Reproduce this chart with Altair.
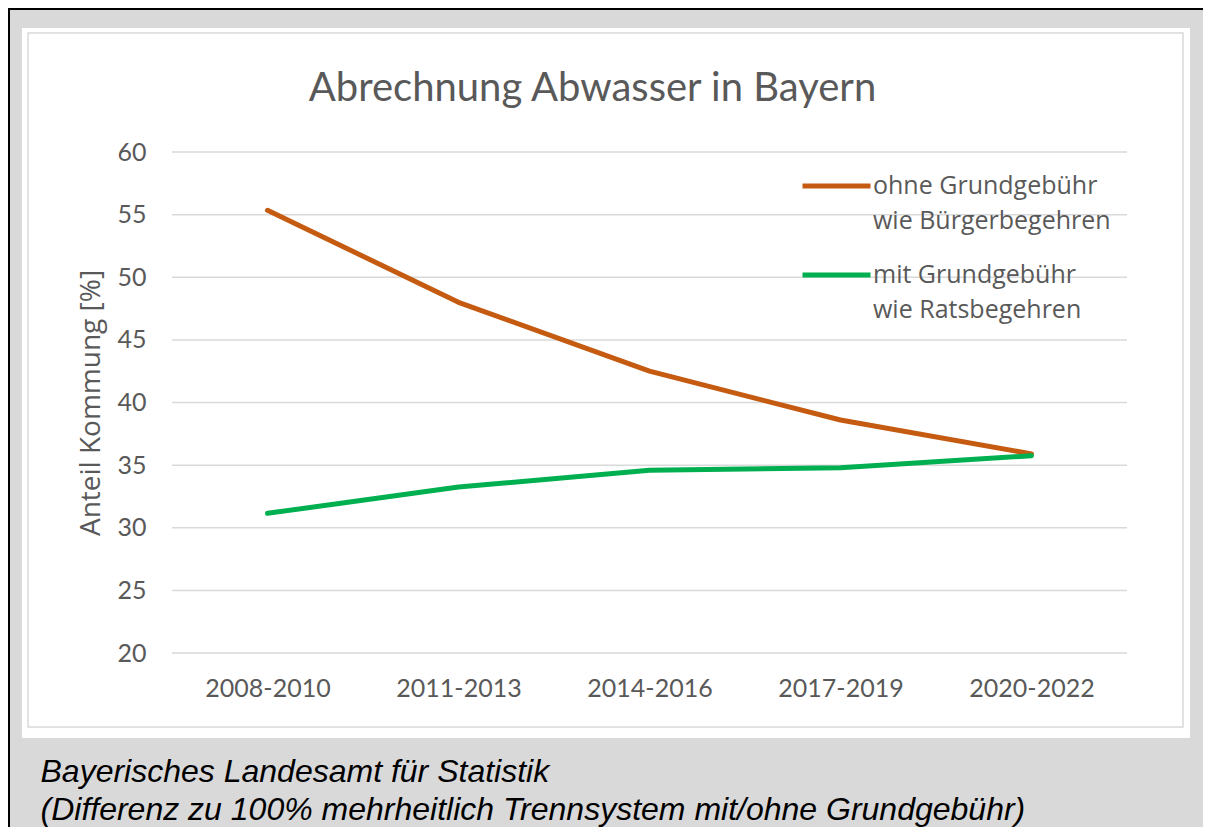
import altair as alt
import pandas as pd

# ---- data ----
periods = ["2008-2010", "2011-2013", "2014-2016", "2017-2019", "2020-2022"]
ohne_values = [55.35, 48.0, 42.5, 38.6, 35.9]
mit_values = [31.15, 33.25, 34.6, 34.8, 35.75]
ohne_label = ["ohne Grundgebühr", "wie Bürgerbegehren"]
mit_label = ["mit Grundgebühr", "wie Ratsbegehren"]
ohne_color = "#c55a11"
mit_color = "#00b050"
y_ticks = [20, 25, 30, 35, 40, 45, 50, 55, 60]
title_text = "Abrechnung Abwasser in Bayern"
y_title = "Anteil Kommung [%]"
caption_lines = [
    "Bayerisches Landesamt für Statistik",
    "(Differenz zu 100% mehrheitlich Trennsystem mit/ohne Grundgebühr)",
]

df_ohne = pd.DataFrame({"period": periods, "value": ohne_values, "series": ohne_label[0]})
df_mit = pd.DataFrame({"period": periods, "value": mit_values, "series": mit_label[0]})
grid_df = pd.DataFrame({"value": y_ticks})
one = pd.DataFrame({"k": [0]})

# ---- layout ----
W, H = 955, 501
PAD_L, PAD_T = 164, 144
TOTAL_W, TOTAL_H = 1195, 819
PAD_R = TOTAL_W - PAD_L - W
PAD_B = TOTAL_H - PAD_T - H

GREY_TXT = "#595959"
GRID = "#d9d9d9"

yscale = alt.Scale(domain=[20, 60], nice=False, zero=False)

x_enc = alt.X(
    "period:N",
    sort=periods,
    axis=alt.Axis(
        title=caption_lines,
        titleFont="Liberation Sans",
        titleFontStyle="italic",
        titleFontWeight="normal",
        titleFontSize=32,
        titleColor="black",
        titleAlign="left",
        titleAnchor="start",
        titleBaseline="alphabetic",
        titleLineHeight=38,
        titleX=40 - 172,
        titleY=781 - 653,
        labelAngle=0,
        labelFont="Lato",
        labelFontSize=25,
        labelColor=GREY_TXT,
        labelPadding=23,
        domain=False,
        ticks=False,
        grid=False,
        zindex=1,
    ),
)
y_enc = alt.Y(
    "value:Q",
    scale=yscale,
    axis=alt.Axis(
        values=y_ticks,
        title=y_title,
        titleFont="Open Sans",
        titleFontSize=28,
        titleFontWeight="normal",
        titleColor=GREY_TXT,
        titleAngle=270,
        titleAlign="center",
        titleBaseline="middle",
        titleX=91 - 172,
        titleY=H / 2,
        labelFont="Lato",
        labelFontSize=25,
        labelColor=GREY_TXT,
        labelPadding=26,
        domain=False,
        ticks=False,
        grid=False,
        zindex=1,
    ),
)


def legend_at(y):
    return alt.Legend(
        title=None,
        orient="none",
        legendX=800 - 172,
        legendY=y,
        padding=0,
        symbolType="stroke",
        symbolSize=68 * 68,
        symbolStrokeWidth=5,
        clipHeight=35,
        labelFont="Open Sans",
        labelFontSize=25,
        labelColor=GREY_TXT,
        labelOffset=0,
        labelLimit=0,
        rowPadding=0,
    )


def line_layer(data, labels, color, legend_y):
    return alt.Chart(data).mark_line(strokeWidth=5, strokeCap="round", strokeJoin="round").encode(
        x=x_enc,
        y=y_enc,
        color=alt.Color(
            "series:N",
            scale=alt.Scale(domain=labels, range=[color, "transparent"]),
            legend=legend_at(legend_y),
        ),
    )


outer_white = alt.Chart(one).mark_rect(color="white").encode(
    x=alt.value(22 - 172), x2=alt.value(1190 - 172),
    y=alt.value(28 - 152), y2=alt.value(738 - 152),
)
panel = alt.Chart(one).mark_rect(fill="white", stroke=GRID, strokeWidth=1.5).encode(
    x=alt.value(28 - 172), x2=alt.value(1183 - 172),
    y=alt.value(33 - 152), y2=alt.value(727 - 152),
)
border_top = alt.Chart(one).mark_rule(color="black", strokeWidth=2).encode(
    x=alt.value(-PAD_L), x2=alt.value(TOTAL_W - PAD_L), y=alt.value(-PAD_T + 1),
)
border_left = alt.Chart(one).mark_rule(color="black", strokeWidth=2).encode(
    x=alt.value(-PAD_L + 1), y=alt.value(-PAD_T), y2=alt.value(TOTAL_H - PAD_T),
)
grid = alt.Chart(grid_df).mark_rule(color=GRID, strokeWidth=1.5).encode(y=y_enc)

orange = line_layer(df_ohne, ohne_label, ohne_color, 186 - 152 - 17.5)
green = line_layer(df_mit, mit_label, mit_color, 275 - 152 - 17.5)

chart = alt.layer(outer_white, panel, border_top, border_left, grid, orange, green).resolve_scale(
    color="independent"
).properties(
    width=W,
    height=H,
    title=alt.Title(
        title_text,
        font="Lato",
        fontSize=40,
        fontWeight="normal",
        color=GREY_TXT,
        anchor="middle",
        dx=-57,
        dy=134,
        offset=0,
        baseline="alphabetic",
    ),
    background="#d9d9d9",
    padding={"left": PAD_L, "top": PAD_T, "right": PAD_R, "bottom": PAD_B},
    autosize=alt.AutoSizeParams(type="none"),
).configure_view(stroke=None)

chart.save("out.html", embed_options={"renderer": "svg", "actions": False})
